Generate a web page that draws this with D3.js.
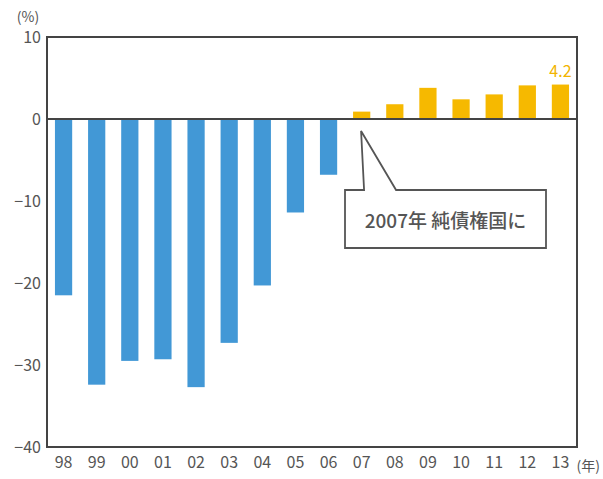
<!DOCTYPE html>
<html>
<head>
<meta charset="utf-8">
<script src="https://cdn.jsdelivr.net/npm/d3@7"></script>
<style>
  body { margin: 0; background: #fff; }
  svg text { font-family: "Noto Sans CJK JP", "Noto Sans", sans-serif; }
</style>
</head>
<body>
<div id="chart"></div>
<script>
// years and net external position (% of GDP)
const years = ["98", "99", "00", "01", "02", "03", "04", "05", "06", "07", "08", "09", "10", "11", "12", "13"];
const values = [-21.5, -32.4, -29.5, -29.3, -32.7, -27.3, -20.3, -11.4, -6.8, 0.9, 1.8, 3.8, 2.4, 3.0, 4.1, 4.2];
const yTicks = [10, 0, -10, -20, -30, -40];
const lastLabel = "4.2";
const noteText = "2007年 純債権国に";

const width = 603, height = 479;
const plotLeft = 47, plotRight = 577, plotTop = 37, plotBottom = 447;

const svg = d3.select("#chart").append("svg")
  .attr("width", width)
  .attr("height", height);

const x = d3.scaleBand(years, [plotLeft, plotRight]).paddingInner(0.48).paddingOuter(0.24);
const y = d3.scaleLinear([-40, 10], [plotBottom, plotTop]);

// bars
svg.append("g").selectAll("rect")
  .data(values)
  .join("rect")
  .attr("x", (d, i) => x(years[i]))
  .attr("width", x.bandwidth())
  .attr("y", d => y(Math.max(0, d)))
  .attr("height", d => Math.abs(y(d) - y(0)))
  .attr("fill", d => d < 0 ? "#4298d6" : "#f6b900");

// zero line
svg.append("line")
  .attr("x1", plotLeft).attr("x2", plotRight)
  .attr("y1", y(0)).attr("y2", y(0))
  .attr("stroke", "#444").attr("stroke-width", 2);

// frame
svg.append("rect")
  .attr("x", plotLeft).attr("y", plotTop)
  .attr("width", plotRight - plotLeft).attr("height", plotBottom - plotTop)
  .attr("fill", "none").attr("stroke", "#444").attr("stroke-width", 2);

// y axis labels
const gy = svg.append("g")
  .attr("transform", `translate(${plotLeft},0)`)
  .call(d3.axisLeft(y).tickValues(yTicks).tickSize(0).tickPadding(6)
    .tickFormat(d => d < 0 ? "\u2212" + Math.abs(d) : d));
gy.select(".domain").remove();
gy.selectAll("text").attr("fill", "#555").attr("font-size", 16);

svg.append("text")
  .attr("x", 28).attr("y", 22)
  .attr("text-anchor", "middle")
  .attr("fill", "#555").attr("font-size", 14)
  .text("(%)");

// x axis labels
const gx = svg.append("g")
  .attr("transform", `translate(0,${plotBottom})`)
  .call(d3.axisBottom(x).tickSize(0).tickPadding(10));
gx.select(".domain").remove();
gx.selectAll("text").attr("fill", "#555").attr("font-size", 16);

svg.append("text")
  .attr("x", 600).attr("y", plotBottom + 24)
  .attr("text-anchor", "end")
  .attr("fill", "#555").attr("font-size", 14)
  .text("(年)");

// value label on the last bar
const last = values.length - 1;
svg.append("text")
  .attr("x", x(years[last]) + x.bandwidth() / 2)
  .attr("y", y(values[last]) - 8)
  .attr("text-anchor", "middle")
  .attr("fill", "#f2b400").attr("font-size", 16)
  .text(lastLabel);

// callout pointing at 2007
const tipX = x("07") + 8, tipY = y(0) + 12;
const box = {x0: 345, x1: 546, y0: 190, y1: 248};
svg.append("path")
  .attr("d", `M${box.x0},${box.y0} H${tipX + 3} L${tipX},${tipY} L${tipX + 35},${box.y0} H${box.x1} V${box.y1} H${box.x0} Z`)
  .attr("fill", "#fff").attr("stroke", "#555").attr("stroke-width", 1.8);
svg.append("text")
  .attr("x", (box.x0 + box.x1) / 2).attr("y", 228)
  .attr("text-anchor", "middle")
  .attr("fill", "#555").attr("font-size", 19).attr("font-weight", 500)
  .text(noteText);
</script>
</body>
</html>
